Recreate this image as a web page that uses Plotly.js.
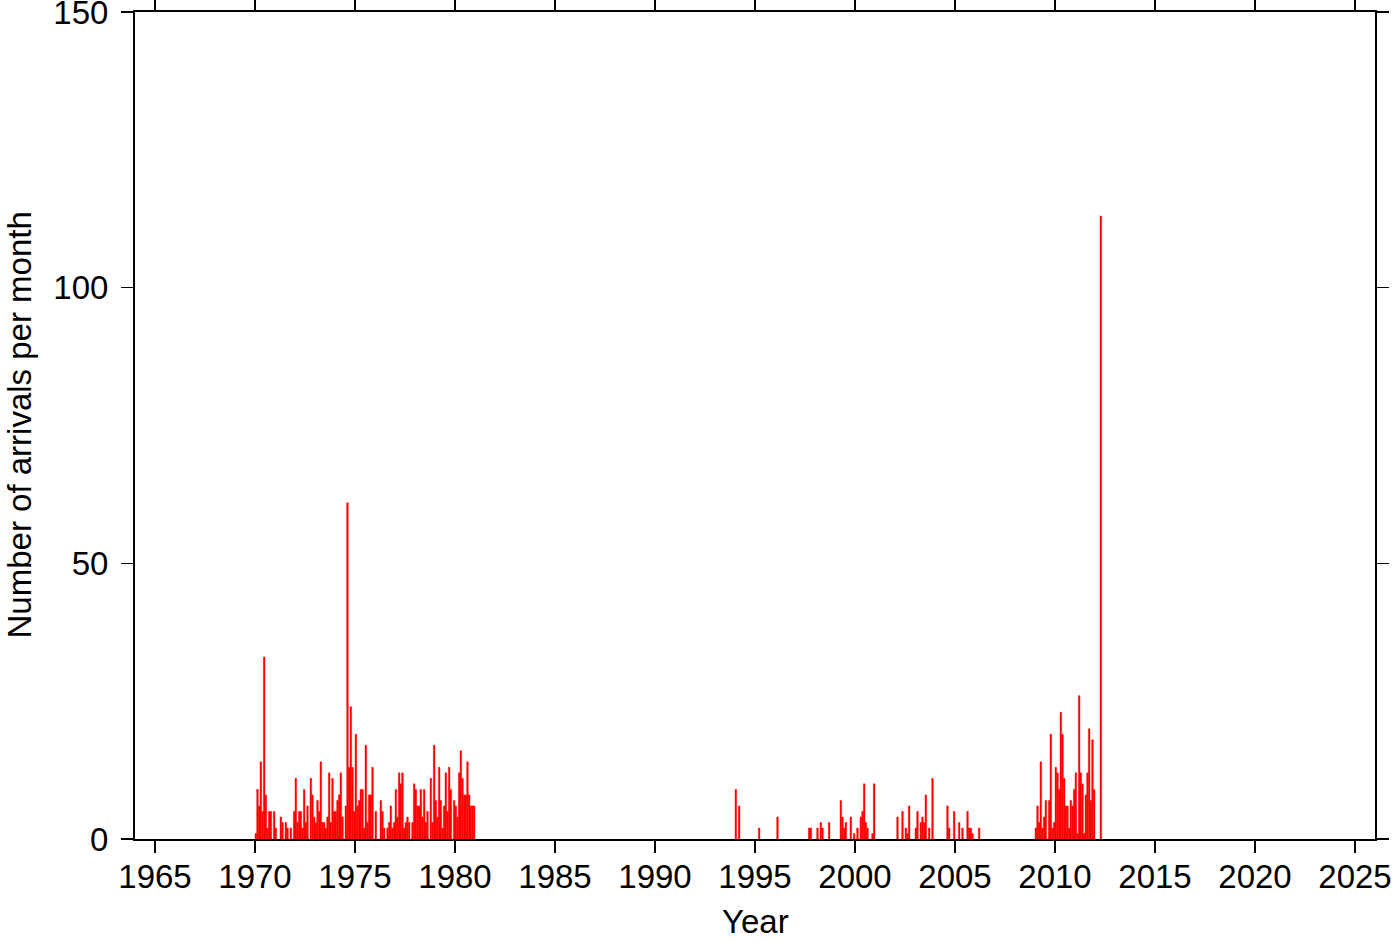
<!DOCTYPE html>
<html>
<head>
<meta charset="utf-8">
<script src="https://cdn.plot.ly/plotly-3.0.1.min.js"></script>
<style>
  html, body { margin: 0; padding: 0; background: #ffffff; }
  #chart { width: 1400px; height: 942px; }
</style>
</head>
<body>
<div id="chart"></div>
<script>
// Monthly arrival counts.
// Segment 1: Jan 1970 .. Dec 1980 (12 values per year)
const seg1StartYear = 1970;
const seg1Counts = [
  1, 9, 6, 14, 5, 33, 8, 2, 5, 5, 0, 5,      // 1970
  2, 0, 0, 4, 3, 0, 3, 2, 0, 2, 0, 5,        // 1971
  11, 3, 5, 5, 2, 9, 3, 6, 0, 11, 8, 4,      // 1972
  3, 7, 5, 14, 3, 3, 2, 4, 12, 3, 11, 5,     // 1973
  5, 7, 8, 12, 4, 0, 6, 61, 13, 24, 13, 5,   // 1974
  19, 6, 7, 9, 9, 2, 17, 3, 8, 8, 13, 0,     // 1975
  5, 0, 0, 7, 5, 2, 0, 2, 3, 6, 2, 3,        // 1976
  9, 4, 12, 10, 12, 2, 3, 4, 3, 0, 3, 10,    // 1977
  9, 6, 6, 9, 4, 9, 3, 5, 0, 11, 3, 17,      // 1978
  7, 4, 13, 7, 2, 6, 12, 5, 13, 9, 0, 7,     // 1979
  6, 4, 12, 16, 11, 8, 8, 14, 8, 6, 6, 6     // 1980
];

// Segment 2: Jan 1994 .. Dec 2006
const seg2StartYear = 1994;
const seg2Counts = [
  9, 0, 6, 0, 0, 0, 0, 0, 0, 0, 0, 0,        // 1994
  0, 0, 2, 0, 0, 0, 0, 0, 0, 0, 0, 0,        // 1995
  0, 4, 0, 0, 0, 0, 0, 0, 0, 0, 0, 0,        // 1996
  0, 0, 0, 0, 0, 0, 0, 0, 2, 2, 0, 0,        // 1997
  0, 2, 0, 3, 2, 0, 0, 0, 3, 0, 0, 0,        // 1998
  0, 0, 0, 7, 4, 2, 3, 0, 0, 4, 0, 1,        // 1999
  0, 2, 0, 4, 5, 10, 3, 2, 0, 0, 1, 10,      // 2000
  0, 0, 0, 0, 0, 0, 0, 0, 0, 0, 0, 0,        // 2001
  0, 4, 0, 0, 5, 0, 2, 1, 6, 0, 0, 0,        // 2002
  2, 5, 0, 3, 4, 3, 8, 0, 2, 0, 11, 0,       // 2003
  0, 0, 0, 0, 0, 0, 0, 6, 2, 0, 0, 5,        // 2004
  0, 0, 3, 0, 2, 0, 0, 5, 2, 2, 1, 0,        // 2005
  0, 0, 2, 0, 0, 0, 0, 0, 0, 0, 0, 0         // 2006
];

// Segment 3: Jan 2009 .. Apr 2012
const seg3StartYear = 2009;
const seg3Counts = [
  2, 6, 3, 14, 2, 4, 7, 0, 7, 19, 2, 3,      // 2009
  13, 12, 9, 23, 19, 11, 6, 6, 2, 7, 6, 9,   // 2010
  12, 1, 26, 12, 10, 1, 8, 12, 20, 7, 18, 9, // 2011
  0, 0, 0, 113                               // 2012
];

const xTitle = 'Year';
const yTitle = 'Number of arrivals per month';
const xTickStart = 1965;
const xTickStep = 5;
const yTickStep = 50;
const xRange = [1964, 2026];
const yRange = [0, 150];

// Build month-centre decimal years for each segment (months with no arrivals draw nothing)
function buildSeries(startYear, counts) {
  const xs = [], ys = [];
  counts.forEach(function (v, i) {
    if (v > 0) {
      xs.push(startYear + (i + 0.5) / 12);
      ys.push(v);
    }
  });
  return { xs: xs, ys: ys };
}

const segments = [
  buildSeries(seg1StartYear, seg1Counts),
  buildSeries(seg2StartYear, seg2Counts),
  buildSeries(seg3StartYear, seg3Counts)
];

const allX = [].concat(segments[0].xs, segments[1].xs, segments[2].xs);
const allY = [].concat(segments[0].ys, segments[1].ys, segments[2].ys);

const FONT = 'Liberation Sans, Arial, Helvetica, sans-serif';
const FS = 33;
const BAR_RED = 'rgb(255,0,0)';

const trace = {
  type: 'bar',
  x: allX,
  y: allY,
  width: 1 / 12,
  marker: { color: BAR_RED, line: { width: 0.4, color: BAR_RED } },
  hoverinfo: 'x+y'
};

const axisCommon = {
  showline: true,
  linecolor: '#000000',
  linewidth: 2,
  mirror: 'ticks',
  ticks: 'outside',
  ticklen: 12,
  tickwidth: 1.3,
  tickcolor: '#000000',
  showgrid: false,
  zeroline: false,
  ticklabeloverflow: 'allow',
  tickfont: { family: FONT, size: FS, color: '#000000' }
};

const layout = {
  width: 1400,
  height: 942,
  margin: { l: 135, r: 25, t: 12, b: 103 },
  paper_bgcolor: '#ffffff',
  plot_bgcolor: '#ffffff',
  showlegend: false,
  bargap: 0,
  font: { family: FONT, size: FS, color: '#000000' },
  xaxis: Object.assign({}, axisCommon, {
    range: xRange,
    tick0: xTickStart,
    dtick: xTickStep,
    tickformat: 'd',
    ticklabelstandoff: -5
  }),
  yaxis: Object.assign({}, axisCommon, {
    range: yRange,
    tick0: 0,
    dtick: yTickStep,
    ticklabelstandoff: 6
  }),
  annotations: [
    {
      text: xTitle, xref: 'paper', yref: 'paper', x: 0.5, y: 0,
      xanchor: 'center', yanchor: 'middle', yshift: -82, showarrow: false,
      font: { family: FONT, size: FS, color: '#000000' }
    },
    {
      text: yTitle, xref: 'paper', yref: 'paper', x: 0, y: 0.5,
      xanchor: 'center', yanchor: 'middle', xshift: -116, textangle: -90, showarrow: false,
      font: { family: FONT, size: FS, color: '#000000' }
    }
  ]
};

Plotly.newPlot('chart', [trace], layout, { staticPlot: true, displayModeBar: false });
</script>
</body>
</html>
